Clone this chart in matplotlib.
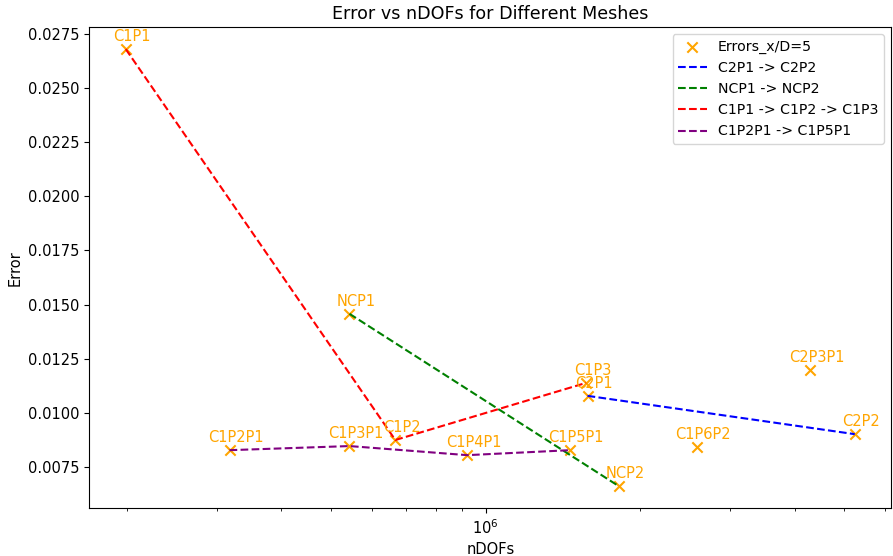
import matplotlib
matplotlib.use("Agg")
import matplotlib.pyplot as plt

plt.rcParams["font.size"] = 10.5

# mesh names, nDOFs and errors
meshes = ["C1P1", "C1P2P1", "C1P3P1", "NCP1", "C1P2", "C1P4P1", "C1P5P1",
          "C1P3", "C2P1", "NCP2", "C1P6P2", "C2P3P1", "C2P2"]
ndofs = [1.99e5, 3.17e5, 5.43e5, 5.43e5, 6.67e5, 9.21e5, 1.46e6,
         1.57e6, 1.58e6, 1.82e6, 2.58e6, 4.29e6, 5.24e6]
errors = [0.0268, 0.00827, 0.00846, 0.01457, 0.00874, 0.00804, 0.00827,
          0.01138, 0.01078, 0.0066, 0.00841, 0.01198, 0.00901]

# refinement paths
paths = [
    (["C2P1", "C2P2"], "blue", "C2P1 -> C2P2"),
    (["NCP1", "NCP2"], "green", "NCP1 -> NCP2"),
    (["C1P1", "C1P2", "C1P3"], "red", "C1P1 -> C1P2 -> C1P3"),
    (["C1P2P1", "C1P3P1", "C1P4P1", "C1P5P1"], "purple", "C1P2P1 -> C1P5P1"),
]

fig = plt.figure(figsize=(8.93, 5.56), dpi=100)
ax = fig.add_axes([0.1, 0.086, 0.898, 0.865])

ax.scatter(ndofs, errors, marker="x", color="orange", s=55, label="Errors_x/D=5")
for name, x, y in zip(meshes, ndofs, errors):
    ax.annotate(name, (x, y), xytext=(4.5, 3.5), textcoords="offset points",
                ha="center", va="bottom", color="orange", fontsize=10.5)

for names, col, lab in paths:
    idx = [meshes.index(n) for n in names]
    ax.plot([ndofs[i] for i in idx], [errors[i] for i in idx], "--", color=col, label=lab)

ax.set_xscale("log")
ax.set_xlabel("nDOFs")
ax.set_ylabel("Error")
ax.set_title("Error vs nDOFs for Different Meshes", fontsize=12.6)
ax.legend(loc="upper right", fontsize=10.2)

fig.savefig("out.png")
